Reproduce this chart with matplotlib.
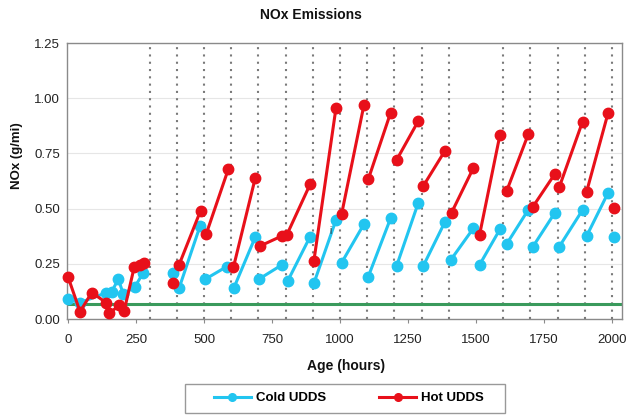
import numpy as np
import matplotlib.pyplot as plt
from matplotlib.lines import Line2D
from matplotlib.patches import Rectangle

plt.rcParams['font.family'] = ['Liberation Sans', 'DejaVu Sans']

nan = np.nan

# Cold UDDS (hours, g/mi) - nan breaks the line between test blocks
cold_hours = [0, 44, 140, 160, 185, 203, 246, 275, nan,
              387, nan,
              408, 485, nan, 504, 583, nan, 609, 688, nan, 701, 786, nan,
              808, 890, nan, 904, 985, nan, 1006, 1088, nan, 1104, 1186, nan,
              1208, 1288, nan, 1306, 1386, nan, 1407, 1490, nan, 1513, 1588, nan,
              1613, 1692, nan, 1708, 1790, nan, 1806, 1892, nan, 1907, 1986, nan,
              2007]
cold_nox = [0.089, 0.074, 0.119, 0.124, 0.18, 0.113, 0.146, 0.207, nan,
            0.207, nan,
            0.139, 0.42, nan, 0.18, 0.237, nan, 0.139, 0.37, nan, 0.18, 0.245, nan,
            0.173, 0.373, nan, 0.162, 0.448, nan, 0.255, 0.43, nan, 0.192, 0.456, nan,
            0.24, 0.527, nan, 0.24, 0.44, nan, 0.267, 0.41, nan, 0.245, 0.406, nan,
            0.34, 0.494, nan, 0.325, 0.481, nan, 0.327, 0.494, nan, 0.376, 0.572, nan,
            0.373]

# Hot UDDS
hot_hours = [0, 44, 87, 140, 152, 189, 206, 243, 265, 279, nan,
             387, nan,
             408, 487, nan, 508, 589, nan, 608, 688, nan, 705, 786, nan,
             804, 890, nan, 904, 985, nan, 1006, 1088, nan, 1104, 1186, nan,
             1208, 1288, nan, 1306, 1386, nan, 1410, 1490, nan, 1513, 1588, nan,
             1613, 1692, nan, 1708, 1790, nan, 1806, 1892, nan, 1907, 1986, nan,
             2007]
hot_nox = [0.19, 0.033, 0.12, 0.074, 0.026, 0.063, 0.036, 0.234, 0.245, 0.252, nan,
           0.165, nan,
           0.245, 0.49, nan, 0.385, 0.678, nan, 0.234, 0.637, nan, 0.33, 0.376, nan,
           0.38, 0.61, nan, 0.264, 0.954, nan, 0.476, 0.969, nan, 0.633, 0.934, nan,
           0.72, 0.897, nan, 0.602, 0.762, nan, 0.481, 0.683, nan, 0.38, 0.833, nan,
           0.58, 0.836, nan, 0.506, 0.657, nan, 0.596, 0.894, nan, 0.577, 0.934, nan,
           0.501]

standard = 0.07
block_hours = [300, 400, 500, 600, 700, 800, 900, 1000, 1100, 1200, 1300, 1400,
               1600, 1700, 1800, 1900, 2000]

cold_color = '#22c5f0'
hot_color = '#e8101a'

fig = plt.figure(figsize=(6.27, 4.15), dpi=100)
ax = fig.add_axes([67/627, 1-319/415, 555/627, 276/415])

for h in block_hours:
    ax.axvline(h, color='#7a7a7a', lw=1.5, ls=(0, (1, 2.5)), zorder=1)

ax.axhline(standard, color='#3a9a5c', lw=2.2, zorder=2)

ax.plot(cold_hours, cold_nox, color=cold_color, lw=2.2, marker='o', ms=7.5,
        zorder=3, clip_on=False)
ax.plot(hot_hours, hot_nox, color=hot_color, lw=2.2, marker='o', ms=7.5,
        zorder=4, clip_on=False)

ax.text(960, 0.385, 'i', fontsize=7, color='#333333')

ax.set_xlim(-4, 2037)
ax.set_ylim(0, 1.25)
ax.set_xticks(range(0, 2001, 250))
ax.set_yticks([0, 0.25, 0.5, 0.75, 1.0, 1.25])
ax.set_yticklabels(['%.2f' % v for v in [0, 0.25, 0.5, 0.75, 1.0, 1.25]])
ax.grid(axis='y', color='#e6e6e6', lw=0.8)
ax.set_axisbelow(True)
for s in ax.spines.values():
    s.set_color('#8a8a8a')
    s.set_linewidth(1.0)
ax.tick_params(axis='both', labelsize=9.5, colors='#8a8a8a', labelcolor='#222222',
               length=3, direction='out')
ax.tick_params(axis='x', pad=8)
ax.tick_params(axis='y', pad=5, length=0)

fig.text(311/627, 1-15/415, 'NOx Emissions', ha='center', va='center',
         fontsize=10, fontweight='bold', color='#111111')
fig.text(346/627, 1-366/415, 'Age (hours)', ha='center', va='center',
         fontsize=10, fontweight='bold', color='#111111')
fig.text(17/627, 1-156/415, 'NOx (g/mi)', ha='center', va='center', rotation=90,
         fontsize=9.5, fontweight='bold', color='#111111')

fig.patches.append(Rectangle((185/627, 1-413/415), 320/627, 29/415,
                             transform=fig.transFigure, fill=False,
                             edgecolor='#999999', lw=1))
handles = [Line2D([], [], color=cold_color, lw=2.2, marker='o', ms=5.5),
           Line2D([], [], color=hot_color, lw=2.2, marker='o', ms=5.5)]
fig.legend(handles, ['Cold UDDS', 'Hot UDDS'], loc='center',
           bbox_to_anchor=(349/627, 1-398/415), ncol=2, frameon=False,
           handlelength=2.8, handletextpad=0.4, columnspacing=4.0,
           prop={'weight': 'bold', 'size': 9.5})

fig.savefig('out.png', dpi=100)
